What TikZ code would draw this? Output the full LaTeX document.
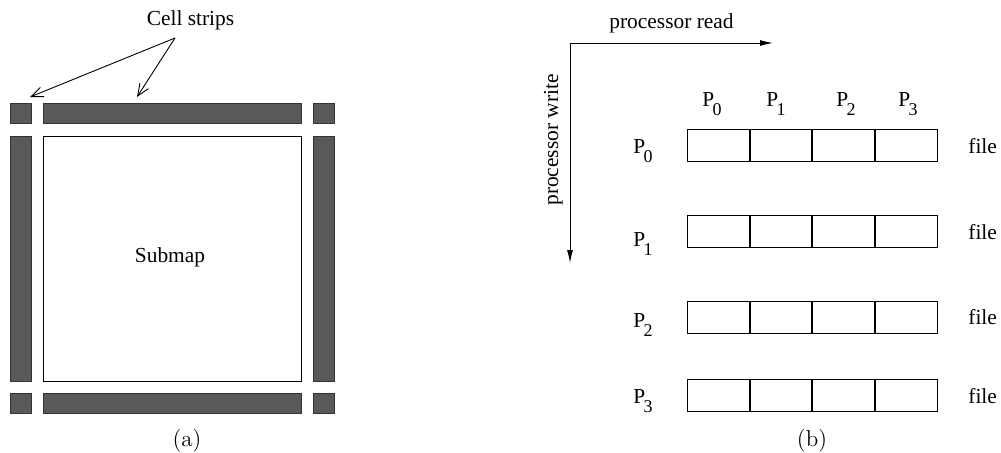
\documentclass[tikz,border=0pt]{standalone}
\usepackage{fontspec}
\newfontfamily\tnr{Liberation Serif}
\usetikzlibrary{arrows.meta}
\definecolor{stripgray}{HTML}{595959}
\newcommand{\Psub}[1]{P\kern-0.8pt\raisebox{-4.5pt}{\fontsize{9}{9}\selectfont #1}}
\begin{document}
\begin{tikzpicture}[x=0.5pt,y=-0.5pt,
  strip/.style={draw=black!80, fill=stripgray, line width=0.5pt},
  plainbox/.style={draw=black, line width=0.5pt},
  lbl/.style={font=\tnr\fontsize{10.7}{12}\selectfont, inner sep=0pt},
  subcap/.style={font=\fontsize{11.5}{13}\selectfont, inner sep=0pt},
  openarrow/.style={-{Straight Barb[length=6pt,width=5pt]}, line width=0.45pt},
  solidarrow/.style={-{Latex[length=6.5pt,width=3pt]}, line width=0.5pt}]
\useasboundingbox (0,0) rectangle (1001,452);
% ---------- (a) ----------
\foreach \xa/\ya/\xb/\yb in {10/103/31/123, 43/103/301/123, 313/103/334/123,
  10/136/31/381, 313/136/334/381,
  10/393/31/413, 43/393/301/413, 313/393/334/413}
  \draw[strip] (\xa,\ya) rectangle (\xb,\yb);
\draw[plainbox] (43,136) rectangle (301,381);
\node[lbl, anchor=base] (cell) at (190.5,25) {Cell strips};
\coordinate (cellsrc) at (175,38);
\coordinate (endA) at (30,97);
\coordinate (endB) at (137,97);
\draw[openarrow] (cellsrc) -- (endA);
\draw[openarrow] (cellsrc) -- (endB);
\node[lbl, anchor=base] (submap) at (170,262) {Submap};
\node[subcap, anchor=base] (capa) at (187,446) {(a)};
% ---------- (b) ----------
\coordinate (origin) at (570,43);
\coordinate (readend) at (773,43);
\coordinate (writeend) at (570,263);
\draw[solidarrow] (origin) -- (readend);
\draw[solidarrow] (origin) -- (writeend);
\node[lbl, anchor=base] (read) at (671.5,28) {processor read};
\node[lbl, anchor=base, rotate=90] (write) at (558,140) {processor write};
\foreach \c/\x in {0/702, 1/766, 2/836, 3/898}
  \node[lbl, anchor=base west] (col\c) at (\x,106) {\Psub{\c}};
\foreach \r/\t/\pb/\fb in {0/129/153/153, 1/215/246/239, 2/301/327/324, 3/379/403/403} {
  \draw[plainbox] (687,\t) rectangle (937,\t+32);
  \foreach \d in {750,812,875}
    \draw[plainbox, line width=0.6pt] (\d,\t) -- (\d,\t+32);
  \node[lbl, anchor=base west] (row\r) at (633,\pb) {\Psub{\r}};
  \node[lbl, anchor=base west] (file\r) at (968,\fb) {file};
}
\node[subcap, anchor=base] (capb) at (812,446) {(b)};
\end{tikzpicture}
\end{document}
